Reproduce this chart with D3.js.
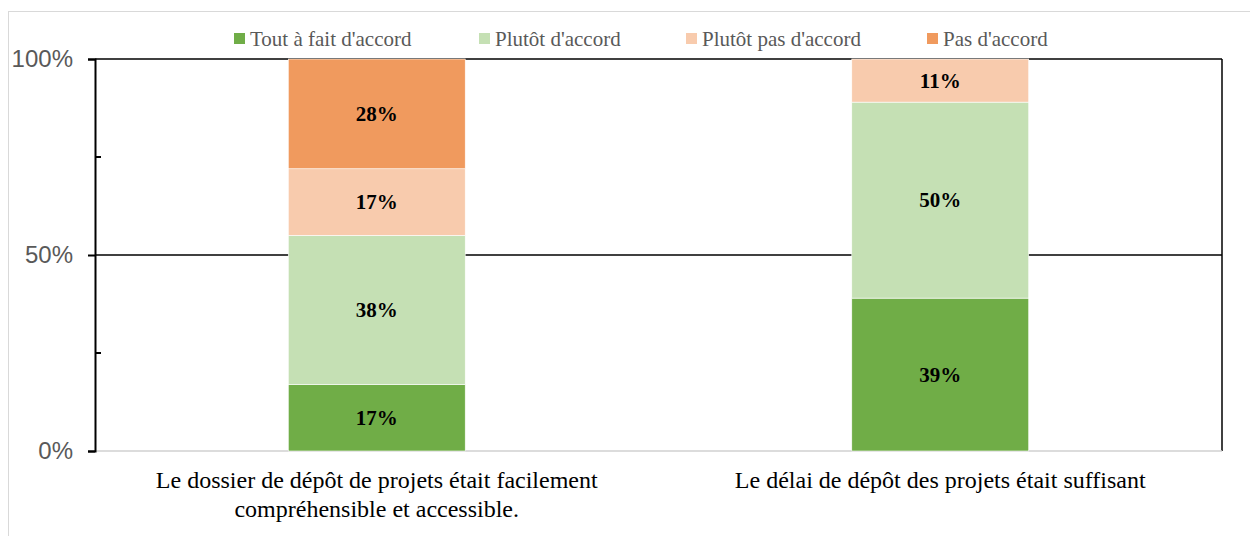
<!DOCTYPE html>
<html>
<head>
<meta charset="utf-8">
<script src="https://cdn.jsdelivr.net/npm/d3@7"></script>
<style>
  body { margin: 0; background: #fff; }
  svg { display: block; }
</style>
</head>
<body>
<svg></svg>
<script>
// data
const categories = [
  ["Le dossier de dépôt de projets était facilement", "compréhensible et accessible."],
  ["Le délai de dépôt des projets était suffisant"]
];
const seriesNames = ["Tout à fait d'accord", "Plutôt d'accord", "Plutôt pas d'accord", "Pas d'accord"];
const toutAFait = [17, 39];
const plutot = [38, 50];
const plutotPas = [17, 11];
const pasDaccord = [28, 0];
const yTicks = [0, 50, 100];
const yMinorTicks = [25, 75];
const colors = ["#70ad47", "#c5e0b4", "#f8cbad", "#f09a5e"];

const W = 1250, H = 536;
const svg = d3.select("svg").attr("width", W).attr("height", H);

const margin = {left: 95, right: 28, top: 59, bottom: 85};
const x0 = margin.left, x1 = W - margin.right;
const y0 = H - margin.bottom, y1 = margin.top;

// outer chart frame
svg.append("rect").attr("x", 8.5).attr("y", 11.5).attr("width", 1300).attr("height", 600)
  .attr("fill", "none").attr("stroke", "#d9d9d9").attr("stroke-width", 1);

const rows = categories.map((c, i) => ({
  cat: i,
  [seriesNames[0]]: toutAFait[i],
  [seriesNames[1]]: plutot[i],
  [seriesNames[2]]: plutotPas[i],
  [seriesNames[3]]: pasDaccord[i]
}));

const x = d3.scaleBand().domain(d3.range(categories.length)).range([x0, x1])
  .paddingInner(0.686).paddingOuter(0.343);
const y = d3.scaleLinear().domain([0, 100]).range([y0, y1]);
const color = d3.scaleOrdinal().domain(seriesNames).range(colors);

// gridlines
svg.append("g").selectAll("line").data(yTicks.slice(1)).join("line")
  .attr("x1", x0).attr("x2", x1).attr("y1", d => y(d)).attr("y2", d => y(d))
  .attr("stroke", "#000").attr("stroke-width", 1.5);

// right border
svg.append("line").attr("x1", x1).attr("x2", x1).attr("y1", y1).attr("y2", y0)
  .attr("stroke", "#000").attr("stroke-width", 1.5);

// bottom category axis (light grey)
svg.append("line").attr("x1", x0).attr("x2", x1).attr("y1", y0).attr("y2", y0)
  .attr("stroke", "#d0d0d0").attr("stroke-width", 1.5);

const stack = d3.stack().keys(seriesNames);
const layers = stack(rows);

const g = svg.append("g");
layers.forEach(layer => {
  g.append("g").selectAll("rect").data(layer).join("rect")
    .attr("x", d => x(d.data.cat))
    .attr("width", x.bandwidth())
    .attr("y", d => y(d[1]))
    .attr("height", d => y(d[0]) - y(d[1]))
    .attr("fill", color(layer.key))
    .attr("stroke", "#fff").attr("stroke-width", 0.6);

  g.append("g").selectAll("text").data(layer.filter(d => d[1] - d[0] > 0)).join("text")
    .attr("x", d => x(d.data.cat) + x.bandwidth() / 2)
    .attr("y", d => (y(d[0]) + y(d[1])) / 2 + 7)
    .attr("text-anchor", "middle")
    .attr("font-family", "'Liberation Serif', 'Times New Roman', serif")
    .attr("font-weight", "bold").attr("font-size", 21)
    .attr("fill", "#000")
    .text(d => (d[1] - d[0]) + "%");
});

// left axis
const yAxis = d3.axisLeft(y).tickValues(yTicks).tickFormat(d => d + "%").tickSize(7).tickPadding(15);
const ax = svg.append("g").attr("transform", `translate(${x0},0)`).call(yAxis);
ax.select(".domain").attr("stroke", "#000").attr("stroke-width", 2);
ax.selectAll(".tick line").attr("stroke", "#000").attr("stroke-width", 2);
ax.selectAll(".tick text").attr("font-family", "'Liberation Sans', Arial, sans-serif")
  .attr("font-size", 24).attr("fill", "#595959");

svg.append("g").selectAll("line").data(yMinorTicks).join("line")
  .attr("x1", x0).attr("x2", x0 + 6).attr("y1", d => y(d)).attr("y2", d => y(d))
  .attr("stroke", "#000").attr("stroke-width", 2);

// category labels
const catText = svg.append("g").selectAll("text").data(categories).join("text")
  .attr("text-anchor", "middle")
  .attr("font-family", "'Liberation Serif', 'Times New Roman', serif")
  .attr("font-size", 24).attr("fill", "#000");
catText.each(function(lines, i) {
  d3.select(this).selectAll("tspan").data(lines).join("tspan")
    .attr("x", x(i) + x.bandwidth() / 2)
    .attr("y", (d, j) => y0 + 37 + j * 29)
    .text(d => d);
});

// legend
const legendX = [234, 479, 686, 927];
const legend = svg.append("g").selectAll("g").data(seriesNames).join("g")
  .attr("transform", (d, i) => `translate(${legendX[i]},0)`);
legend.append("rect").attr("x", 0).attr("y", 33).attr("width", 11).attr("height", 11)
  .attr("fill", d => color(d));
legend.append("text").attr("x", 16).attr("y", 45.5)
  .attr("font-family", "'Liberation Serif', 'Times New Roman', serif")
  .attr("font-size", 21).attr("fill", "#595959")
  .text(d => d);
</script>
</body>
</html>
